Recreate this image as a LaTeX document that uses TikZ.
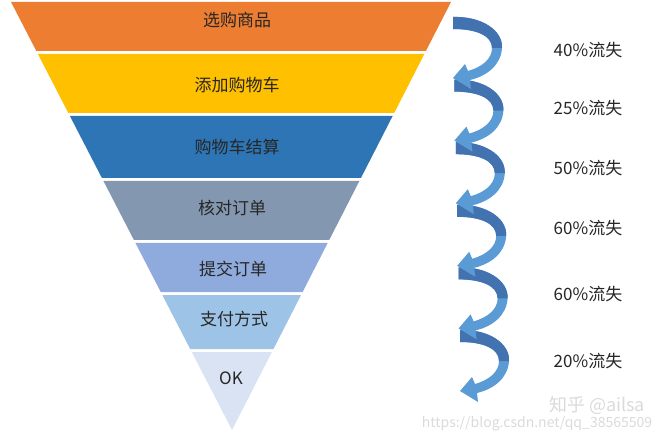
\documentclass[tikz,border=0pt]{standalone}
\usepackage{fontspec}
\setmainfont{Noto Sans CJK SC}
\definecolor{cOrange}{HTML}{ED7D31}
\definecolor{cYellow}{HTML}{FFC000}
\definecolor{cBlue}{HTML}{2E75B6}
\definecolor{cSlate}{HTML}{8497B0}
\definecolor{cLav}{HTML}{8FAADC}
\definecolor{cSky}{HTML}{9DC3E6}
\definecolor{cPale}{HTML}{DAE3F3}
\definecolor{arrDark}{HTML}{4273B0}
\definecolor{arrLight}{HTML}{5B9BD5}
\definecolor{txt}{HTML}{262626}
\definecolor{wm}{HTML}{DADADA}

\begin{document}
\begin{tikzpicture}[x=1pt,y=-1pt,
    stage/.style={text=txt,font=\fontsize{17}{20}\selectfont,inner sep=0pt},
    loss/.style={text=txt,font=\fontsize{17}{20}\selectfont,inner sep=0pt},
    wmtext/.style={text=wm,inner sep=0pt}]
        \useasboundingbox (0,0) rectangle (669,438);

        % funnel bands
        \foreach \ya/\yb/\col in {2/51/cOrange, 54/113/cYellow, 116/178/cBlue, 181/240/cSlate, 243/292/cLav, 295/349/cSky, 352/430/cPale}
            \fill[\col] ({10+0.5163*\ya},\ya) -- ({452-0.5116*\ya},\ya) -- ({452-0.5116*\yb},\yb) -- ({10+0.5163*\yb},\yb) -- cycle;

        \node[stage] (s1) at (237,20) {选购商品};
        \node[stage] (s2) at (237,85) {添加购物车};
        \node[stage] (s3) at (237,147) {购物车结算};
        \node[stage] (s4) at (232,208) {核对订单};
        \node[stage] (s5) at (233,269) {提交订单};
        \node[stage] (s6) at (234,319) {支付方式};
        \node[stage] (s7) at (231,378) {OK};

        % curled arrows
        \foreach \k in {5,4,...,0} {
            \begin{scope}[shift={({453+1.4*\k},{17+62.6*\k})}]
                \fill[arrLight] (0,0) .. controls (28,-1) and (50,13) .. (49,31)
                    .. controls (48,48) and (34,59) .. (17,63) -- (18,72) -- (0,61) -- (12,47) -- (15,54)
                    .. controls (29,50) and (39,42) .. (39,31)
                    .. controls (39,19) and (24,12) .. (0,12) -- cycle;
                \fill[arrDark] (0,0) .. controls (28,-1) and (50,13) .. (49,31)
                    -- (39,31) .. controls (39,19) and (24,12) .. (0,12) -- cycle;
            \end{scope}
        }

        \node[loss] (l1) at (588,50) {40\%流失};
        \node[loss] (l2) at (588,108) {25\%流失};
        \node[loss] (l3) at (588,168) {50\%流失};
        \node[loss] (l4) at (588,228) {60\%流失};
        \node[loss] (l5) at (588,294) {60\%流失};
        \node[loss] (l6) at (588,361) {20\%流失};

        \node[wmtext,font=\fontsize{18}{20}\selectfont] (w1) at (597,405) {知乎 @ailsa};
        \node[wmtext,font=\fontsize{14}{16}\selectfont] (w2) at (537,424) {https://blog.csdn.net/qq\_38565509};
\end{tikzpicture}
\end{document}
